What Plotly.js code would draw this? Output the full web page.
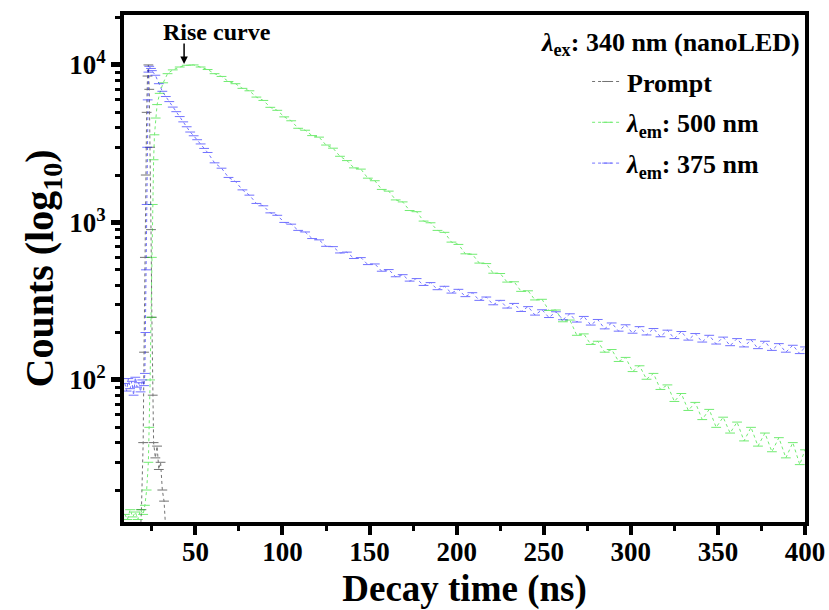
<!DOCTYPE html>
<html>
<head>
<meta charset="utf-8">
<script src="https://cdn.plot.ly/plotly-3.0.1.min.js"></script>
<style>html,body{margin:0;padding:0;background:#fff;}#chart{width:829px;height:610px;}</style>
</head>
<body>
<div id="chart"></div>
<script>
// Prompt (instrument response)
var promptT = [9, 12, 15, 18, 19, 20, 20.5, 21, 21.5, 22, 22.5, 23, 23.5, 24, 24.5, 25, 25.5, 26, 27, 28, 29, 30, 31, 32, 33, 35, 40];
var promptY = [5, 6, 5, 8, 15, 40, 150, 600, 2000, 5000, 8500, 10000, 7000, 3000, 900, 250, 80, 40, 32, 38, 27, 30, 20, 17, 11, 7, 5];

// Emission at 500 nm (green)
var greenT = [9.5, 11, 12.5, 14, 15.5, 17, 18.5, 20, 21, 22, 23, 23.5, 24, 24.5, 25, 25.5, 26, 26.5, 27.2, 28, 29.5, 31.5, 34, 37, 41, 45, 49, 53,
  57, 61, 65, 69, 73, 77, 81, 85, 89, 93, 97, 101, 105, 109, 113, 117, 121, 125, 129, 133, 137, 141, 145, 149, 153, 157, 161, 165, 169, 173, 177, 181, 185, 189, 193, 197,
  201, 205, 209, 213, 217, 221, 225, 229, 233, 237, 241, 245, 249, 253, 257, 261, 265, 269, 273, 277, 281, 285, 289, 293, 297,
  301, 305, 309, 313, 317, 321, 325, 329, 333, 337, 341, 345, 349, 353, 357, 361, 365, 369, 373, 377, 381, 385, 389, 393, 397, 400];
var greenY = [14, 13, 15, 13.5, 14.5, 13, 15, 14, 16, 20, 30, 50, 100, 250, 600, 1300, 2500, 3600, 4600, 5600, 6600, 7700, 8800, 9300, 9700, 9950, 10000, 9700,
  9350, 8800, 8450, 7850, 7600, 7100, 6850, 6250, 5950, 5380, 5150, 4680, 4420, 3960, 3850, 3560, 3480, 3100, 2960, 2630, 2470, 2220, 2180, 1910, 1840, 1620, 1580, 1390, 1350, 1190, 1170, 1020, 995, 890, 865, 750,
  725, 632, 628, 552, 548, 476, 474, 418, 420, 365, 368, 322, 325, 276, 278, 234, 240, 192, 196, 168, 176, 150, 156, 131, 139,
  113, 123, 101, 110, 87, 93, 73, 82, 64, 72, 56, 65, 50, 58, 46, 54, 41, 50, 38, 46, 35, 43, 32, 40, 29, 36];

// Emission at 375 nm (blue)
var blueT = [9.5, 10.5, 11.5, 12.5, 13.5, 14.5, 15.5, 16.5, 17.5, 18.5, 19.5, 20.5, 21, 21.3, 21.6, 22, 22.3, 22.6, 23, 23.5, 24.5,
  25, 27, 29, 31, 33, 35, 37, 39, 41, 43, 45, 47, 49, 51, 53, 55,
  57, 61, 65, 69, 73, 77, 81, 85, 89, 93, 97, 101, 105, 109, 113, 117, 121, 125, 129, 133, 137, 141, 145, 149, 153, 157, 161, 165, 169, 173, 177, 181, 185, 189, 193, 197,
  201, 205, 209, 213, 217, 221, 225, 229, 233, 237, 241, 245, 249, 253, 257, 261, 265, 269, 273, 277, 281, 285, 289, 293, 297,
  301, 305, 309, 313, 317, 321, 325, 329, 333, 337, 341, 345, 349, 353, 357, 361, 365, 369, 373, 377, 381, 385, 389, 393, 397, 400];
var blueY = [95, 85, 102, 88, 98, 80, 104, 90, 96, 84, 100, 92, 110, 200, 500, 1300, 3000, 6000, 9000, 9800, 9500,
  9200, 8600, 7600, 6800, 6300, 5850, 5400, 5050, 4700, 4350, 4050, 3750, 3550, 3350, 3150, 2950,
  2780, 2390, 2210, 1930, 1820, 1610, 1490, 1320, 1275, 1150, 1110, 1000, 975, 890, 870, 790, 775, 705, 702, 640, 648, 590, 598, 540, 545, 490, 502, 452, 466, 424, 440, 398, 415, 374, 393, 356,
  376, 338, 358, 320, 336, 300, 320, 286, 306, 272, 292, 258, 279, 249, 271, 241, 263, 233, 253, 223, 242, 211, 230, 204, 224,
  198, 218, 193, 212, 188, 207, 183, 203, 179, 197, 174, 192, 169, 187, 165, 183, 162, 180, 158, 176, 154, 170, 150, 166, 147, 162];

var legendNames = ['Prompt', '<i>λ</i><sub>em</sub>: 500 nm', '<i>λ</i><sub>em</sub>: 375 nm'];
var xTickVals = [50, 100, 150, 200, 250, 300, 350, 400];
var yTickVals = [100, 1000, 10000];
var yTickText = ['10<sup>2</sup>', '10<sup>3</sup>', '10<sup>4</sup>'];

function mkTrace(x, y, name, color, grp) {
  return {
    x: x, y: y, name: name, type: 'scatter', mode: 'lines+markers',
    legendgroup: grp, cliponaxis: true,
    line: {color: color, width: 1, dash: 'dot'},
    marker: {symbol: 'line-ew-open', size: 7, color: color, line: {color: color, width: 1}},
    opacity: 0.55
  };
}

var data = [
  mkTrace(promptT, promptY, legendNames[0], '#000000', 'g1'),
  mkTrace(greenT, greenY, legendNames[1], '#00dd00', 'g2'),
  mkTrace(blueT, blueY, legendNames[2], '#0000ff', 'g3')
];

var FONT = 'Liberation Serif, Times New Roman, serif';

var layout = {
  width: 829, height: 610,
  margin: {l: 124, r: 24, t: 15, b: 88},
  paper_bgcolor: '#ffffff', plot_bgcolor: '#ffffff',
  font: {family: FONT, color: '#000', weight: 'bold'},
  showlegend: true,
  legend: {
    x: 0.68, y: 0.915, xanchor: 'left', yanchor: 'top',
    bgcolor: 'rgba(0,0,0,0)', borderwidth: 0,
    font: {family: FONT, size: 26, color: '#000', weight: 'bold'},
    tracegroupgap: 4
  },
  xaxis: {
    range: [9, 400], showgrid: false, zeroline: false,
    showline: true, linewidth: 4, linecolor: '#000', mirror: true,
    ticks: 'outside', ticklen: 9, tickwidth: 4, tickcolor: '#000',
    tickvals: xTickVals, ticklabelstandoff: -6,
    tickfont: {family: FONT, size: 27, color: '#000', weight: 'bold'},
    minor: {tickvals: [25, 75, 125, 175, 225, 275, 325, 375], ticks: 'outside', ticklen: 5, tickwidth: 3, tickcolor: '#000'},
    title: {text: 'Decay time (ns)', font: {family: FONT, size: 37, color: '#000', weight: 'bold'}, standoff: 12}
  },
  yaxis: {
    type: 'log', range: [1.098, 4.317], showgrid: false, zeroline: false,
    showline: true, linewidth: 4, linecolor: '#000', mirror: true,
    ticks: 'outside', ticklen: 9, tickwidth: 5, tickcolor: '#000',
    tickvals: yTickVals, ticktext: yTickText,
    tickfont: {family: FONT, size: 27, color: '#000', weight: 'bold'},
    minor: {tickvals: [20,30,40,50,60,70,80,90,200,300,400,500,600,700,800,900,2000,3000,4000,5000,6000,7000,8000,9000,20000], ticks: 'outside', ticklen: 5, tickwidth: 3, tickcolor: '#000'},
    title: {text: 'Counts (log<sub>10</sub>)', font: {family: FONT, size: 40, color: '#000', weight: 'bold'}, standoff: 4}
  },
  annotations: [
    {xref: 'paper', yref: 'paper', x: 0.995, y: 0.943, xanchor: 'right', yanchor: 'middle', showarrow: false,
     text: '<i>λ</i><sub>ex</sub>: 340 nm (nanoLED)', font: {family: FONT, size: 26, color: '#000', weight: 'bold'}},
    {xref: 'x', yref: 'y', x: 62.4, y: 4.212, showarrow: false, text: 'Rise curve',
     font: {family: FONT, size: 24, color: '#000', weight: 'bold'}},
    {xref: 'x', yref: 'y', x: 43.5, y: 4.006, text: '', showarrow: true, ax: 0, ay: -22,
     arrowhead: 2, arrowsize: 1, arrowwidth: 1.5, arrowcolor: '#000'}
  ]
};

Plotly.newPlot('chart', data, layout, {displayModeBar: false, staticPlot: true});
</script>
</body>
</html>
